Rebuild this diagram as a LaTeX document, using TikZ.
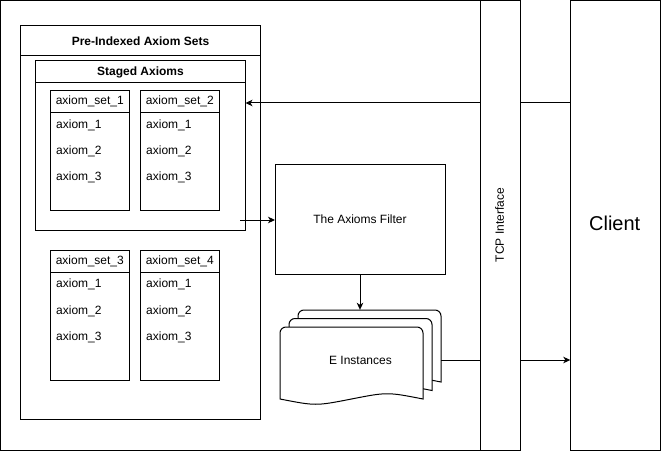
\documentclass[tikz,border=0pt]{standalone}
\usepackage{fontspec}
\setmainfont{Liberation Sans}
\usetikzlibrary{arrows.meta,fit}
\tikzset{
  box/.style={draw, line width=1pt, fill=white, inner sep=0pt, outer sep=0pt},
  arr/.style={line width=1pt, -{Stealth[length=7pt,width=6.5pt,inset=2pt]}},
  conn/.style={line width=1pt},
  txt/.style={inner sep=0pt, font=\fontsize{12}{14}\selectfont},
  ttl/.style={inner sep=0pt, font=\fontsize{12}{14}\selectfont\bfseries},
  itm/.style={txt, anchor=west},
}
\newcommand\edocpage[4]{%
  \filldraw[line width=1pt, fill=white]
    (#1,#4) [rounded corners=6pt] -- (#1,#2) -- (#3,#2) [sharp corners] -- (#3,#4)
    .. controls ({0.75*#3+0.25*#1},{#4-7}) .. ({0.5*#3+0.5*#1},#4)
    .. controls ({0.25*#3+0.75*#1},{#4+7}) .. (#1,#4) -- cycle;
}
\begin{document}
\begin{tikzpicture}[x=1pt,y=-1pt]
\useasboundingbox (0,0) rectangle (662,452);

% outer container
\node[box, fit={(0.5,0.5) (480.5,450)}] (outer) {};

% Pre-Indexed Axiom Sets
\node[box, fit={(20.5,25.5) (260.5,419.5)}] (pre) {};
\draw[conn] (pre.west |- 0,56) -- (pre.east |- 0,56);
\node[ttl] (pretitle) at (140.5,41) {Pre-Indexed Axiom Sets};

% Staged Axioms
\node[box, fit={(35.5,60.5) (245.5,230.5)}] (staged) {};
\draw[conn] (staged.west |- 0,83) -- (staged.east |- 0,83);
\node[ttl] (stagedtitle) at (140.5,72) {Staged Axioms};

% axiom sets
\node[box, fit={(50.3,90.3) (129.3,210.3)}] (set1) {};
\draw[conn] (set1.west |- 0,112.3) -- (set1.east |- 0,112.3);
\node[txt] (set1t) at (89.8,101.5) {axiom\_set\_1};
\node[itm] (s1a) at (56,125) {axiom\_1};
\node[itm] (s1b) at (56,151) {axiom\_2};
\node[itm] (s1c) at (56,177) {axiom\_3};

\node[box, fit={(140.3,90.3) (219.3,210.3)}] (set2) {};
\draw[conn] (set2.west |- 0,112.3) -- (set2.east |- 0,112.3);
\node[txt] (set2t) at (179.8,101.5) {axiom\_set\_2};
\node[itm] (s2a) at (146,125) {axiom\_1};
\node[itm] (s2b) at (146,151) {axiom\_2};
\node[itm] (s2c) at (146,177) {axiom\_3};

\node[box, fit={(50.3,250.3) (129.3,380.3)}] (set3) {};
\draw[conn] (set3.west |- 0,272.3) -- (set3.east |- 0,272.3);
\node[txt] (set3t) at (89.8,261.5) {axiom\_set\_3};
\node[itm] (s3a) at (56,284.5) {axiom\_1};
\node[itm] (s3b) at (56,311) {axiom\_2};
\node[itm] (s3c) at (56,337) {axiom\_3};

\node[box, fit={(140.3,250.3) (219.3,380.3)}] (set4) {};
\draw[conn] (set4.west |- 0,272.3) -- (set4.east |- 0,272.3);
\node[txt] (set4t) at (179.8,261.5) {axiom\_set\_4};
\node[itm] (s4a) at (146,284.5) {axiom\_1};
\node[itm] (s4b) at (146,311) {axiom\_2};
\node[itm] (s4c) at (146,337) {axiom\_3};

% filter
\node[box, fit={(275,164) (445,274)}] (filter) {};
\node[txt] (filtert) at (360,219) {The Axioms Filter};

% E instances (multiple documents)
\edocpage{298}{310}{441}{382}
\edocpage{289}{318.5}{432}{390.5}
\edocpage{280}{327}{423}{399}
\node[inner sep=0pt, fit={(280,310) (441,399)}] (einst) {};
\node[txt] (einstt) at (360.5,360) {E Instances};

% client
\node[box, fit={(570.3,0.5) (660.7,450)}] (client) {};
\node[inner sep=0pt, font=\fontsize{20}{24}\selectfont] (clientt) at (614.7,223) {Client};

% connectors
\coordinate (stagedout) at (240,220);
\draw[arr] (client.west |- 0,103) -- (staged.east |- 0,103);
\draw[arr] (stagedout) -- (filter.west |- stagedout);
\draw[arr] (filter.south) -- (filter.south |- einst.north);
\draw[arr] (einst.east |- 0,360) -- (client.west |- 0,360);

% TCP interface (on top of the connectors)
\node[box, fit={(480.5,0.5) (520.3,450)}] (tcp) {};
\node[txt, rotate=90] (tcpt) at (499.5,225) {TCP Interface};
\end{tikzpicture}
\end{document}
